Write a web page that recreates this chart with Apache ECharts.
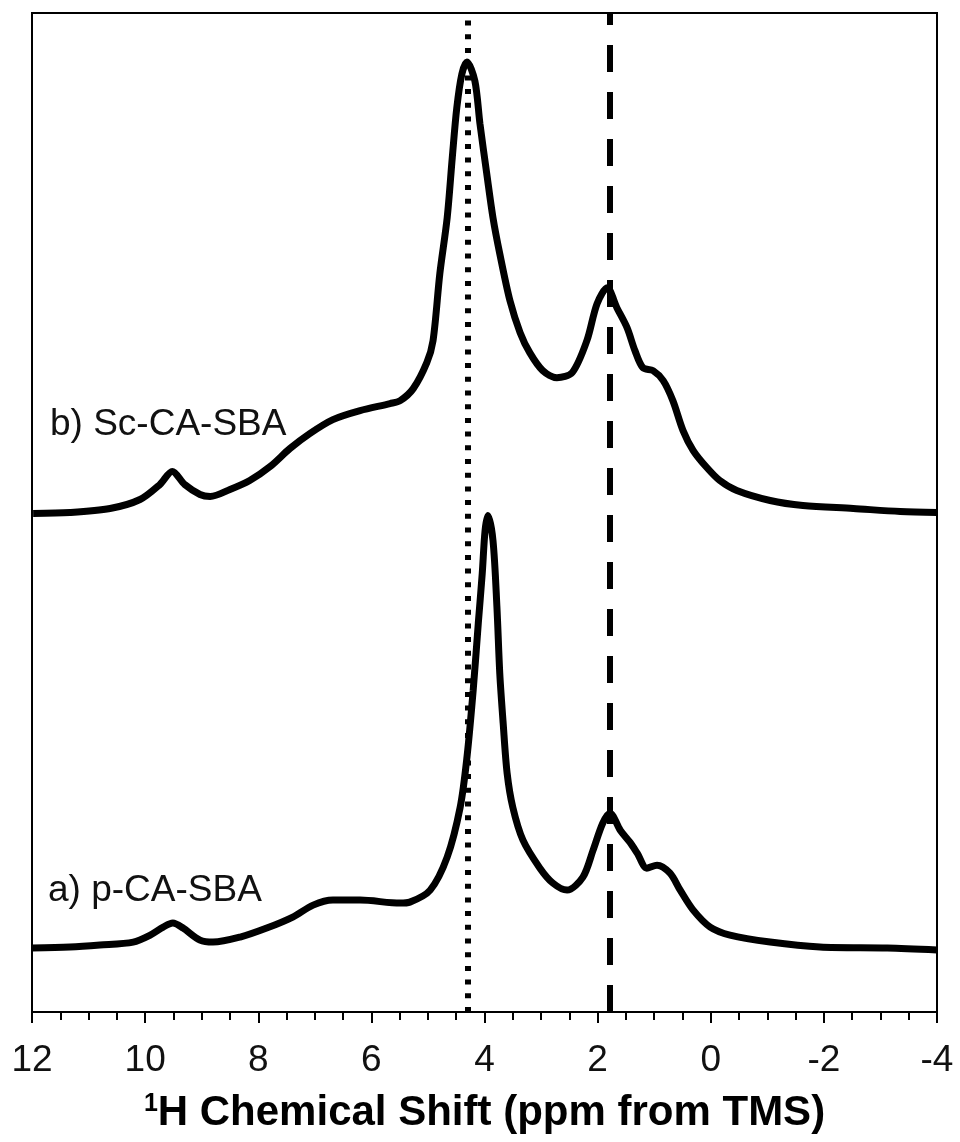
<!DOCTYPE html>
<html>
<head>
<meta charset="utf-8">
<script src="https://cdn.jsdelivr.net/npm/echarts@6/dist/echarts.min.js"></script>
<style>
html,body{margin:0;padding:0;background:#fff;}
#chart{width:960px;height:1142px;}
</style>
</head>
<body>
<div id="chart"></div>
<script>
// 1H chemical shift (ppm) and stacked intensity (arbitrary units, offset traces)
var ppmB = [11.98,11.33,10.62,10.09,9.74,9.52,9.30,9.03,8.85,8.50,8.15,7.79,7.44,7.09,6.68,6.20,5.67,5.49,5.26,5.02,4.91,4.79,4.66,4.57,4.49,4.40,4.31,4.17,4.08,3.96,3.85,3.73,3.55,3.37,3.20,2.97,2.72,2.45,2.19,2.01,1.83,1.66,1.48,1.34,1.20,1.02,0.84,0.67,0.49,0.31,0.07,-0.16,-0.46,-1.05,-1.63,-2.52,-3.35,-4.00];
var intB = [499,500,504,513,528,541,528,518,516,523,532,546,564,579,593,602,609,612,624,650,672,739,795,855,905,939,951,932,889,839,795,759,712,680,660,642,635,640,672,709,725,705,685,662,645,642,632,612,582,562,545,532,522,512,507,504,501,500];
var ppmA = [12.00,11.33,10.80,10.21,9.91,9.68,9.51,9.33,9.03,8.80,8.32,7.85,7.39,7.03,6.68,6.20,5.49,5.32,4.96,4.66,4.43,4.31,4.20,4.11,4.04,3.99,3.94,3.85,3.78,3.73,3.67,3.60,3.50,3.32,3.02,2.79,2.54,2.26,2.08,1.91,1.78,1.60,1.43,1.30,1.13,0.95,0.72,0.54,0.31,0.01,-0.34,-1.05,-1.93,-3.12,-4.00];
var intA = [64,65,67,70,77,85,89,84,72,70,75,84,95,107,112,112,109,110,122,155,205,255,322,389,439,482,497,472,405,339,289,239,205,172,144,129,122,135,162,189,199,182,170,159,144,147,139,122,102,85,77,70,65,64,62];
var refLines = [4.3, 1.78];
var xTicks = [12,10,8,6,4,2,0,-2,-4];
var labelB = 'b) Sc-CA-SBA';
var labelA = 'a) p-CA-SBA';

function pairs(xs, ys){ return xs.map(function(x,i){ return [x, ys[i]]; }); }

var chart = echarts.init(document.getElementById('chart'), null, {renderer:'canvas'});
var font = '"Liberation Sans", Arial, sans-serif';
chart.setOption({
  animation:false,
  backgroundColor:'#fff',
  grid:{left:32,right:23,top:13,bottom:130,show:true,borderColor:'#000',borderWidth:2,backgroundColor:'transparent'},
  xAxis:{
    type:'value',min:-4,max:12,interval:2,inverse:true,
    axisLine:{onZero:false,lineStyle:{color:'#000',width:2}},
    axisTick:{show:true,inside:false,length:11,lineStyle:{color:'#000',width:2}},
    minorTick:{show:true,splitNumber:4,length:8,lineStyle:{color:'#000',width:2}},
    splitLine:{show:false},
    axisLabel:{color:'#111',fontSize:37,fontFamily:font,margin:30,
      formatter:function(v){ return xTicks.indexOf(v)>=0 ? String(v) : ''; }},
    name:'{s|1}{t|H Chemical Shift (ppm from TMS)}',
    nameLocation:'middle',nameGap:80,
    nameTextStyle:{color:'#000',fontFamily:font,fontWeight:'bold',fontSize:42,
      rich:{s:{fontSize:25,fontWeight:'bold',fontFamily:font,color:'#000',verticalAlign:'top',lineHeight:42},
            t:{fontSize:42,fontWeight:'bold',fontFamily:font,color:'#000',lineHeight:42}}}
  },
  yAxis:{
    type:'value',min:0,max:1000,
    axisLine:{show:true,onZero:false,lineStyle:{color:'#000',width:2}},
    axisTick:{show:false},axisLabel:{show:false},splitLine:{show:false}
  },
  series:[
    {type:'line',data:pairs(ppmB,intB),showSymbol:false,smooth:0.3,
     lineStyle:{color:'#000',width:7},z:3,
     markLine:{silent:true,symbol:['none','none'],label:{show:false},animation:false,
       data:[{xAxis:refLines[0],lineStyle:{color:'#000',width:6,type:[5,8.7],cap:'butt'}},
             {xAxis:refLines[1],lineStyle:{color:'#000',width:6,type:[27,20],cap:'butt'}}]}},
    {type:'line',data:pairs(ppmA,intA),showSymbol:false,smooth:0.3,
     lineStyle:{color:'#000',width:7},z:3}
  ],
  graphic:[
    {type:'text',left:50,top:406,style:{text:labelB,fill:'#111',font:'37px '+font}},
    {type:'text',left:48,top:872,style:{text:labelA,fill:'#111',font:'37px '+font}}
  ]
});
</script>
</body>
</html>
